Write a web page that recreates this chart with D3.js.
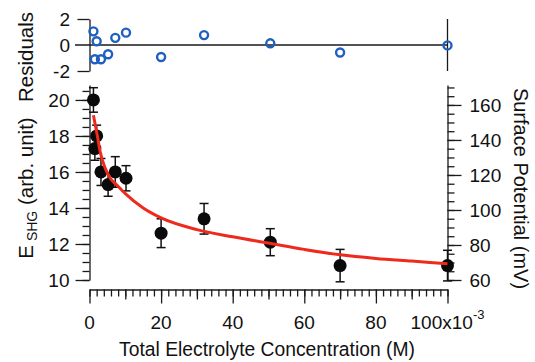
<!DOCTYPE html>
<html>
<head>
<meta charset="utf-8">
<script src="https://cdn.jsdelivr.net/npm/d3@7"></script>
<style>
  html, body { margin: 0; padding: 0; background: #fff; }
  svg { display: block; font-family: "Liberation Sans", Arial, sans-serif; }
  .axis path, .axis line { stroke: #1a1a1a; stroke-width: 1.3; }
  .axis text { fill: #111; font-size: 19px; font-family: "Liberation Sans", Arial, sans-serif; }
</style>
</head>
<body>
<div id="chart"></div>
<script>
// measured points (concentration in mM, E_SHG in arb. unit)
const conc = [1.1, 1.5, 2.0, 3.2, 5.2, 7.2, 10.2, 20, 32, 50.5, 70, 100];
const eshg = [20.0, 17.3, 18.0, 16.0, 15.3, 16.0, 15.65, 12.6, 13.4, 12.1, 10.8, 10.8];
const eshgErr = [0.68, 0.65, 0.6, 0.75, 0.65, 0.85, 0.7, 0.8, 0.85, 0.75, 0.9, 0.85];
const residuals = [1.05, -1.1, 0.29, -1.1, -0.71, 0.55, 0.95, -0.92, 0.76, 0.13, -0.58, -0.03];

// fit curve
const fitConc = [1.1, 2.2, 3.0, 4.4, 5.8, 7.5, 10, 15, 20, 30, 40, 50, 60, 70, 80, 90, 100];
const fitE = [19.15, 18.0, 17.1, 16.2, 15.65, 15.3, 14.8, 14.0, 13.45, 12.8, 12.4, 12.05, 11.7, 11.4, 11.2, 11.05, 10.9];

// tick values
const xMajor = [0, 20, 40, 60, 80, 100];
const xLabels = ['0', '20', '40', '60', '80', '100x10'];
const yLeftMajor = [10, 12, 14, 16, 18, 20];
const yRightMajor = [60, 80, 100, 120, 140, 160];
const residTicks = [2, 0, -2];

const width = 535, height = 362;
const plot = { left: 89.5, right: 447.5, top: 85, bottom: 280 };

const svg = d3.select('#chart').append('svg')
  .attr('width', width)
  .attr('height', height);

const x = d3.scaleLinear().domain([0, 100]).range([plot.left, plot.right]);
const yLeft = d3.scaleLinear().domain([10, 20.83]).range([plot.bottom, plot.top]);
const yRight = d3.scaleLinear().domain([60, 171.4]).range([plot.bottom, plot.top]);
const yRes = d3.scaleLinear().domain([-2, 2]).range([71, 19]);

// ---- residual panel ----
svg.append('line')
  .attr('x1', 75).attr('x2', plot.right)
  .attr('y1', yRes(0)).attr('y2', yRes(0))
  .attr('stroke', '#1a1a1a').attr('stroke-width', 1.3);
svg.append('line')
  .attr('x1', plot.right).attr('x2', plot.right)
  .attr('y1', yRes(2)).attr('y2', yRes(-2))
  .attr('stroke', '#1a1a1a').attr('stroke-width', 1.3);

svg.append('g')
  .attr('class', 'axis')
  .attr('transform', 'translate(' + plot.left + ',0)')
  .call(d3.axisLeft(yRes).tickValues([2, -2]).tickSize(12).tickSizeOuter(0).tickFormat(''));

svg.append('g').selectAll('text')
  .data(residTicks)
  .enter().append('text')
  .attr('x', 70)
  .attr('y', d => yRes(d))
  .attr('dy', '0.36em')
  .attr('text-anchor', 'end')
  .attr('font-size', 19)
  .attr('fill', '#111')
  .text(d => d === -2 ? '-2' : d);

svg.append('g').selectAll('circle')
  .data(conc)
  .enter().append('circle')
  .attr('cx', d => x(d))
  .attr('cy', (d, i) => yRes(residuals[i]))
  .attr('r', 4)
  .attr('fill', 'none')
  .attr('stroke', '#1f5fc0')
  .attr('stroke-width', 2.4);

// ---- main panel axes ----
// left
svg.append('g')
  .attr('class', 'axis')
  .attr('transform', 'translate(' + plot.left + ',0)')
  .call(d3.axisLeft(yLeft).tickValues(d3.range(10, 20.51, 0.5)).tickSize(7).tickSizeOuter(0).tickFormat(''));
svg.append('g')
  .attr('class', 'axis')
  .attr('transform', 'translate(' + plot.left + ',0)')
  .call(d3.axisLeft(yLeft).tickValues(yLeftMajor).tickSize(14).tickSizeOuter(0).tickPadding(6).tickFormat(d3.format('d')))
  .call(g => g.select('.domain').remove());

// right
svg.append('g')
  .attr('class', 'axis')
  .attr('transform', 'translate(' + plot.right + ',0)')
  .call(d3.axisRight(yRight).tickValues(d3.range(60, 171, 5)).tickSize(7).tickSizeOuter(0).tickFormat(''));
svg.append('g')
  .attr('class', 'axis')
  .attr('transform', 'translate(' + plot.right + ',0)')
  .call(d3.axisRight(yRight).tickValues(yRightMajor).tickSize(14).tickSizeOuter(0).tickPadding(8).tickFormat(d3.format('d')))
  .call(g => g.select('.domain').remove());

// bottom (offset below the plot)
const xAxisY = 289.5;
svg.append('g')
  .attr('class', 'axis')
  .attr('transform', 'translate(0,' + xAxisY + ')')
  .call(d3.axisBottom(x).tickValues(d3.range(0, 101, 2)).tickSize(7).tickSizeOuter(0).tickFormat(''));
svg.append('g')
  .attr('class', 'axis')
  .attr('transform', 'translate(0,' + xAxisY + ')')
  .call(d3.axisBottom(x).tickValues([10, 30, 50, 70, 90]).tickSize(10).tickFormat(''))
  .call(g => g.select('.domain').remove());
svg.append('g')
  .attr('class', 'axis')
  .attr('transform', 'translate(0,' + xAxisY + ')')
  .call(d3.axisBottom(x).tickValues(xMajor).tickSize(14).tickSizeOuter(0).tickFormat(''))
  .call(g => g.select('.domain').remove());

const xLab = svg.append('g').selectAll('text')
  .data(xMajor)
  .enter().append('text')
  .attr('x', d => x(d))
  .attr('y', 328.5)
  .attr('text-anchor', 'middle')
  .attr('font-size', 19)
  .attr('fill', '#111');
xLab.append('tspan').text((d, i) => xLabels[i]);
xLab.filter(d => d === 100).append('tspan')
  .attr('dy', -10)
  .attr('font-size', 13)
  .text('-3');

// axis titles
svg.append('text')
  .attr('x', 267)
  .attr('y', 356)
  .attr('text-anchor', 'middle')
  .attr('font-size', 19.3)
  .attr('fill', '#111')
  .text('Total Electrolyte Concentration (M)');

svg.append('text')
  .attr('transform', 'translate(33,57) rotate(-90)')
  .attr('text-anchor', 'middle')
  .attr('font-size', 20.5)
  .attr('fill', '#111')
  .text('Residuals');

const yTitle = svg.append('text')
  .attr('transform', 'translate(33,188) rotate(-90)')
  .attr('text-anchor', 'middle')
  .attr('font-size', 20.5)
  .attr('fill', '#111');
yTitle.append('tspan').text('E');
yTitle.append('tspan').attr('dy', 4).attr('font-size', 14).text(' SHG');
yTitle.append('tspan').attr('dy', -4).text(' (arb. unit)');

svg.append('text')
  .attr('transform', 'translate(514,188.5) rotate(90)')
  .attr('text-anchor', 'middle')
  .attr('font-size', 20)
  .attr('fill', '#111')
  .text('Surface Potential (mV)');

// ---- data ----
const points = conc.map((c, i) => ({ c: c, e: eshg[i], err: eshgErr[i] }));

const bars = svg.append('g').selectAll('g')
  .data(points)
  .enter().append('g')
  .attr('stroke', '#111')
  .attr('stroke-width', 1.5);
bars.append('line')
  .attr('x1', d => x(d.c)).attr('x2', d => x(d.c))
  .attr('y1', d => yLeft(d.e + d.err)).attr('y2', d => yLeft(d.e - d.err));
bars.append('line')
  .attr('x1', d => x(d.c) - 4.5).attr('x2', d => x(d.c) + 4.5)
  .attr('y1', d => yLeft(d.e + d.err)).attr('y2', d => yLeft(d.e + d.err));
bars.append('line')
  .attr('x1', d => x(d.c) - 4.5).attr('x2', d => x(d.c) + 4.5)
  .attr('y1', d => yLeft(d.e - d.err)).attr('y2', d => yLeft(d.e - d.err));

svg.append('g').selectAll('circle')
  .data(points)
  .enter().append('circle')
  .attr('cx', d => x(d.c))
  .attr('cy', d => yLeft(d.e))
  .attr('r', 6.5)
  .attr('fill', '#0a0a0a');

const fitLine = d3.line()
  .x((d, i) => x(fitConc[i]))
  .y(d => yLeft(d))
  .curve(d3.curveMonotoneX);

svg.append('path')
  .datum(fitE)
  .attr('d', fitLine)
  .attr('fill', 'none')
  .attr('stroke', '#ee2a1c')
  .attr('stroke-width', 3);
</script>
</body>
</html>
